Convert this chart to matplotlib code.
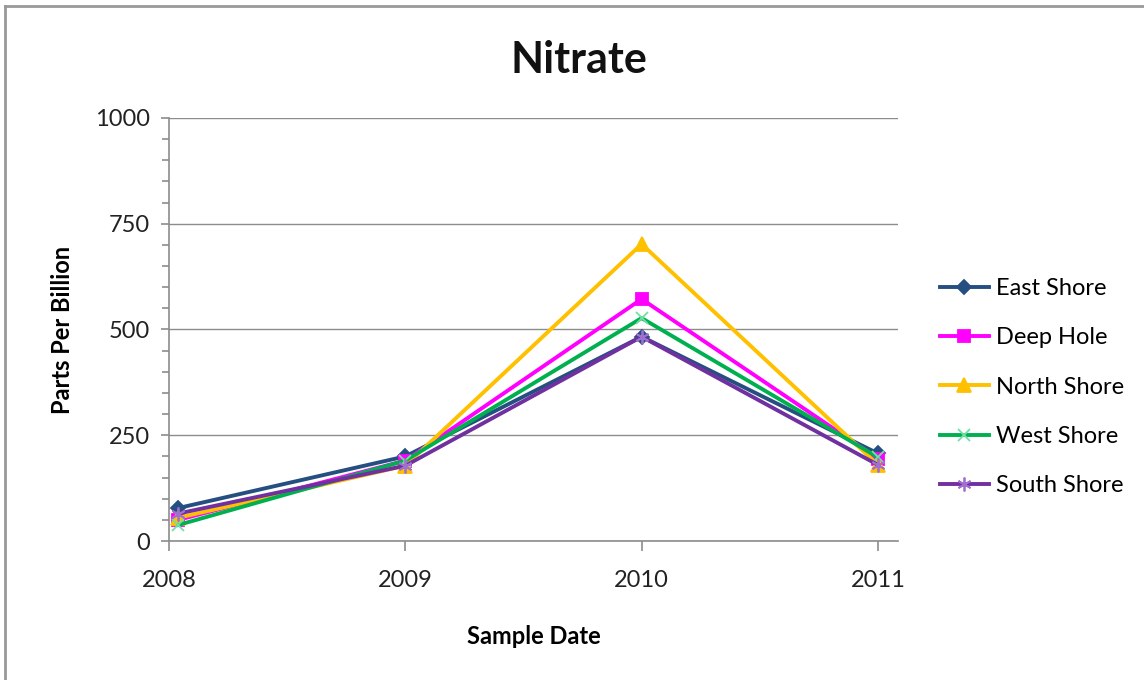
import matplotlib
matplotlib.use("Agg")
import matplotlib.pyplot as plt
from matplotlib.lines import Line2D
from matplotlib.ticker import MultipleLocator

years = ["2008", "2009", "2010", "2011"]
sample_x = [0.04, 1.0, 2.0, 3.0]   # sample positions on the date axis

east_shore = [78, 200, 483, 207]
deep_hole = [50, 190, 572, 195]
north_shore = [55, 178, 702, 180]
west_shore = [38, 190, 527, 198]
south_shore = [65, 178, 483, 180]

plt.rcParams['font.family'] = ['Lato', 'DejaVu Sans']


def main():
    fig = plt.figure(figsize=(11.44, 6.8), dpi=100)
    ax = fig.add_axes([0.1477, 0.2044, 0.6373, 0.6221])

    series = [
        ("East Shore", east_shore, "#254F80", "D", "#254F80", 7),
        ("Deep Hole", deep_hole, "#FF00FF", "s", "#FF00FF", 9),
        ("North Shore", north_shore, "#FFC000", "^", "#FFC000", 10),
        ("West Shore", west_shore, "#00B050", "x", "#70E0A8", 9),
        ("South Shore", south_shore, "#7030A0", (6, 2, 0), "#A070D0", 10),
    ]
    for name, vals, col, mk, mcol, ms in series:
        ax.plot(sample_x, vals, color=col, lw=2.8, marker=mk, ms=ms,
                markerfacecolor=mcol, markeredgecolor=mcol, mew=1.3,
                label=name, zorder=3)

    ax.set_xlim(0, 3.085)
    ax.set_ylim(0, 1000)
    ax.set_xticks(range(len(years)))
    ax.set_xticklabels(years)
    ax.yaxis.set_major_locator(MultipleLocator(250))
    ax.yaxis.set_minor_locator(MultipleLocator(50))
    ax.grid(axis='y', color='#8C8C8C', lw=1)
    ax.set_axisbelow(True)

    for s in ("top", "right"):
        ax.spines[s].set_visible(False)
    for s in ("left", "bottom"):
        ax.spines[s].set_color('#8C8C8C')
        ax.spines[s].set_linewidth(1.2)
    ax.tick_params(axis='both', which='both', color='#8C8C8C', width=1.2,
                   labelsize=17, colors='#8C8C8C', labelcolor='#222222')
    ax.tick_params(axis='y', which='major', length=6, pad=8)
    ax.tick_params(axis='y', which='minor', length=5)
    ax.tick_params(axis='x', which='major', length=7, pad=14)

    ax.set_xlabel("Sample Date", fontsize=17, fontweight='bold', labelpad=24)
    ax.set_ylabel("Parts Per Billion", fontsize=17, fontweight='bold', labelpad=15)
    fig.text(0.506, 0.912, "Nitrate", fontsize=31, fontweight='bold',
             ha='center', va='center', color='#111111')

    ax.legend(loc='center left', bbox_to_anchor=(1.044, 0.364), frameon=False,
              fontsize=17, handlelength=2.1, labelspacing=1.2,
              handletextpad=0.3, borderaxespad=0)

    # chart area border (left and top visible)
    fig.add_artist(Line2D([5 / 1144, 5 / 1144], [0, 1 - 6 / 680],
                          transform=fig.transFigure, color='#999999', lw=2))
    fig.add_artist(Line2D([5 / 1144, 1], [1 - 6 / 680, 1 - 6 / 680],
                          transform=fig.transFigure, color='#999999', lw=2))

    fig.savefig("out.png", dpi=100)


if __name__ == "__main__":
    main()
